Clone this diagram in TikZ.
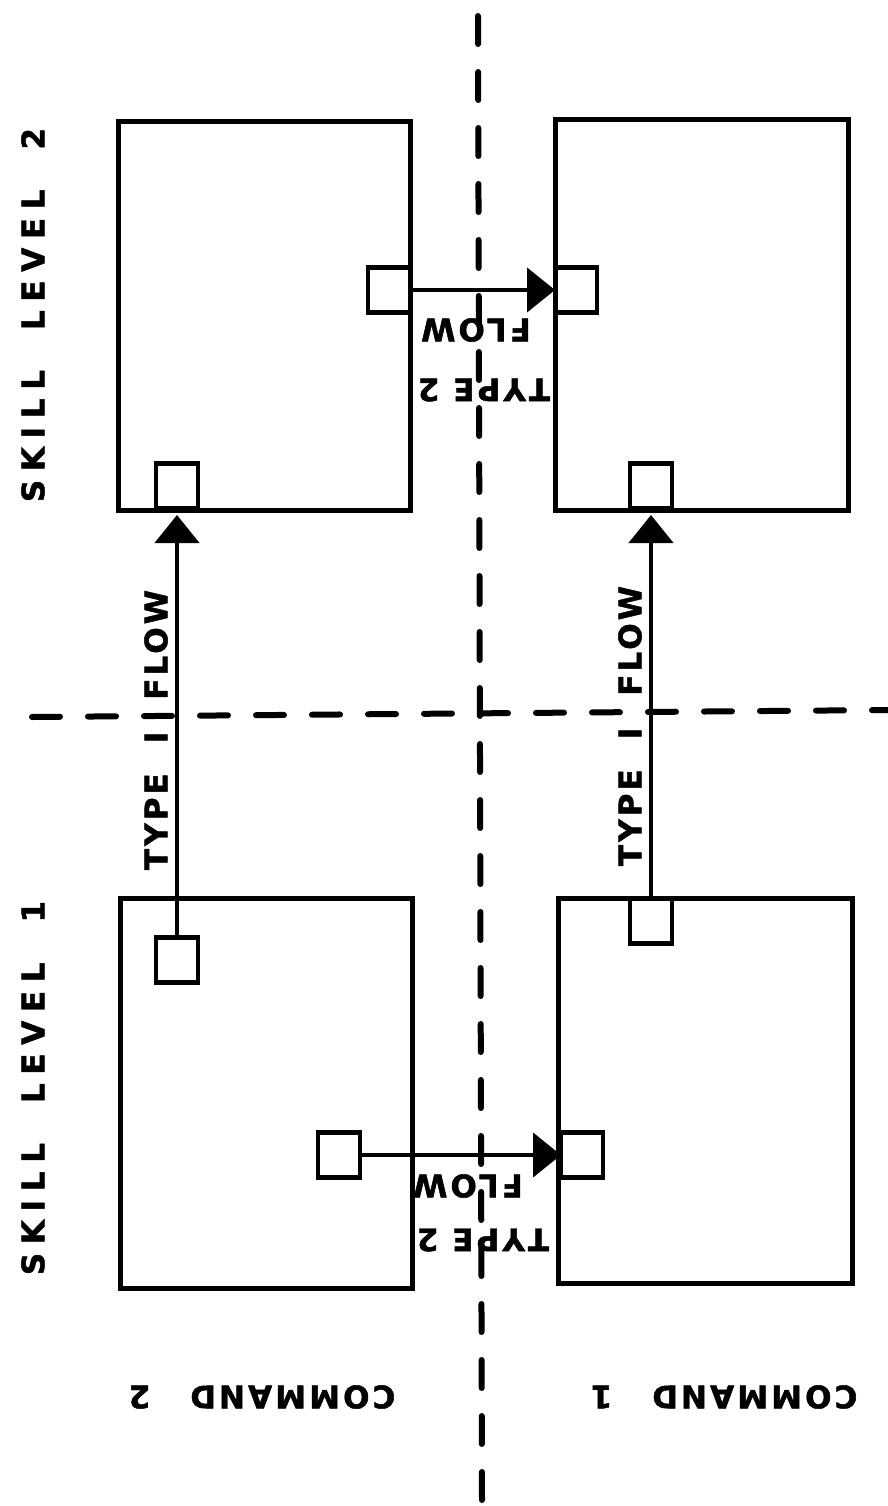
\documentclass[tikz,border=0pt]{standalone}
\usepackage{fontspec}
\usetikzlibrary{arrows.meta}
\newfontfamily\lblA[LetterSpace=28,FakeBold=1.5]{DejaVu Sans}
\newfontfamily\lblB[LetterSpace=10,FakeBold=1.5]{DejaVu Sans}
\tikzset{
  box/.style={draw, line width=5pt, inner sep=0pt, outer sep=0pt},
  port/.style={draw, line width=4.5pt, inner sep=0pt, outer sep=0pt, minimum width=42pt, minimum height=45pt},
  flow/.style={line width=4.5pt, -{Triangle[length=28pt,width=44pt]}},
  divider/.style={line width=6pt, line cap=round, dash pattern=on 28pt off 28pt},
  bigtxt/.style={inner sep=0pt, font=\lblA\bfseries\fontsize{31}{36}\selectfont},
  smalltxt/.style={inner sep=0pt, font=\lblB\bfseries\fontsize{31}{36}\selectfont}
}
\begin{document}
\begin{tikzpicture}[x=1pt,y=-1pt]
\fill[white] (0,0) rectangle (888,1506);
\useasboundingbox (0,0) rectangle (888,1506);

% dividers
\coordinate (vt) at (478,16);
\coordinate (vb) at (482,1500);
\coordinate (hl) at (32,717);
\coordinate (hr) at (888,710);
\draw[divider] (vt) -- (vb);
\draw[divider] (hl) -- (hr);

% boxes
\node[box, minimum width=292pt, minimum height=388pt, fill=white] (tl) at (264,316) {};
\node[box, minimum width=293pt, minimum height=390pt, fill=white] (tr) at (701.5,315) {};
\node[box, minimum width=292pt, minimum height=390pt, fill=white] (bl) at (266,1093) {};
\node[box, minimum width=294pt, minimum height=385pt, fill=white] (br) at (705,1090.5) {};

% ports
\node[port] (pTLr) at (389,290) {};
\node[port] (pTRl) at (576,290) {};
\node[port] (pTLb) at (177,486) {};
\node[port] (pTRb) at (651,486) {};
\node[port] (pBLt) at (177,960) {};
\node[port] (pBRt) at (651,921) {};
\node[port] (pBLr) at (339,1155) {};
\node[port] (pBRl) at (582,1155) {};

% flows
\draw[flow] (pTLr.east) -- (pTRl.west);
\draw[flow] (pBLr.east) -- (pBRl.west);
\draw[flow, shorten >=5pt] (pBLt.north) -- (pBLt.north |- tl.south);
\draw[flow, shorten >=5pt] (pBRt.north) -- (pBRt.north |- tr.south);

% labels
\node[bigtxt, rotate=90] (sk2) at (33,315) {SKILL\hspace{40pt}LEVEL\hspace{40pt}2};
\node[bigtxt, rotate=90] (sk1) at (33,1088) {SKILL\hspace{40pt}LEVEL\hspace{40pt}1};
\node[smalltxt, rotate=90] (t1l) at (156,730) {TYPE\hspace{30pt}I\hspace{32pt}FLOW};
\node[smalltxt, rotate=90] (t1r) at (630,726) {TYPE\hspace{30pt}I\hspace{32pt}FLOW};
\node[smalltxt, rotate=180] (f2t) at (476,330) {FLOW};
\node[smalltxt, rotate=180] (t2t) at (484,390) {TYPE 2};
\node[smalltxt, rotate=180] (f2b) at (468,1186) {FLOW};
\node[smalltxt, rotate=180] (t2b) at (483,1240) {TYPE 2};
\node[smalltxt, rotate=180] (c2) at (262,1397) {COMMAND\hspace{40pt}2};
\node[smalltxt, rotate=180] (c1) at (724,1397) {COMMAND\hspace{40pt}1};
\end{tikzpicture}
\end{document}
